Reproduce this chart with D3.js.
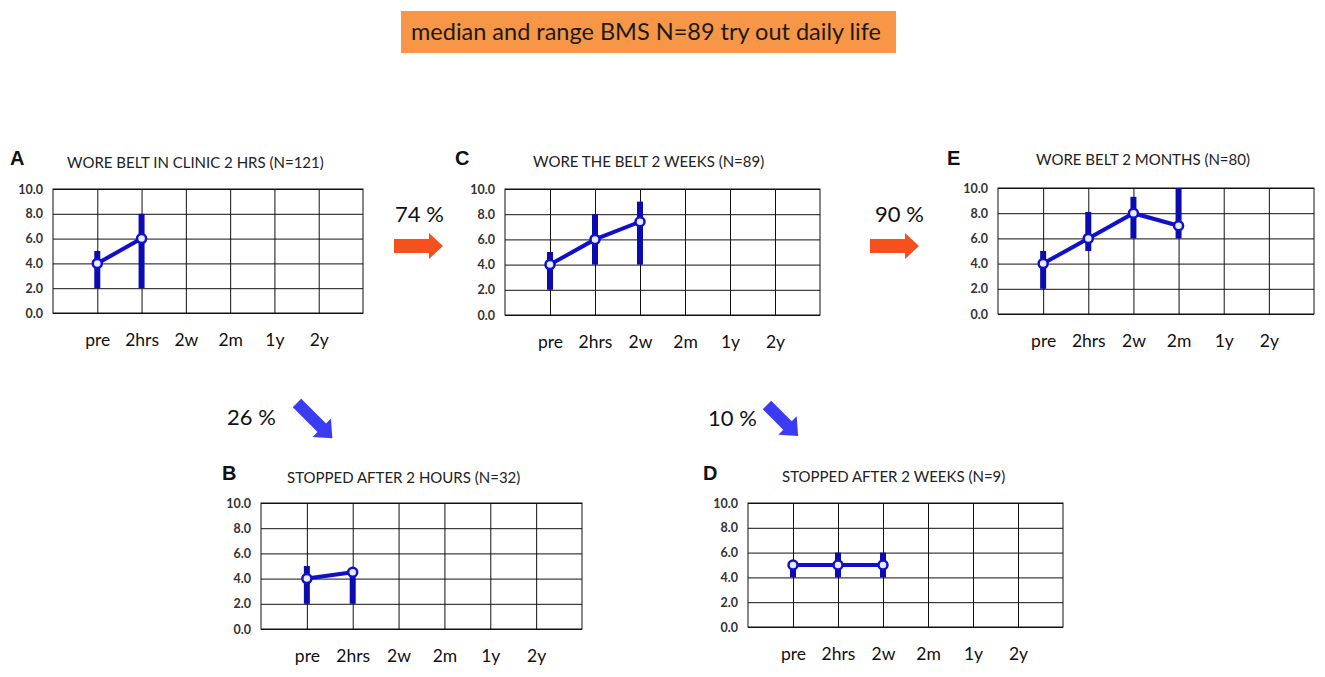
<!DOCTYPE html>
<html lang="en">
<head>
  <meta charset="UTF-8">
  <title>median and range BMS</title>
  <script src="https://d3js.org/d3.v7.min.js"></script>
  <style>
    body { margin: 0; background: #fff; }
    svg { display: block; }
    .ylab text { font-family: Lato, "Open Sans", sans-serif; font-size: 12.5px; font-weight: bold; fill: #333; }
    .xlab text { font-family: Lato, "Open Sans", sans-serif; font-size: 17.5px; fill: #111; }
  </style>
</head>
<body>
<svg id="chart" width="1325" height="677"></svg>
<script>
// time points on the x axis
const categories = ["pre", "2hrs", "2w", "2m", "1y", "2y"];
const yTicks = [0, 2, 4, 6, 8, 10];

// panel titles
const panelLetters = ["A", "C", "E", "B", "D"];
const panelTitles = [
  "WORE BELT IN CLINIC 2 HRS (N=121)",
  "WORE THE BELT 2 WEEKS (N=89)",
  "WORE BELT 2 MONTHS (N=80)",
  "STOPPED AFTER 2 HOURS (N=32)",
  "STOPPED AFTER 2 WEEKS (N=9)"
];

// median, min, max per panel
const medianA = [4.0, 6.0];
const minA = [2.0, 2.0];
const maxA = [5.0, 8.0];

const medianC = [4.0, 6.0, 7.4];
const minC = [2.0, 4.0, 4.0];
const maxC = [5.0, 8.0, 9.0];

const medianE = [4.0, 6.0, 8.0, 7.0];
const minE = [2.0, 5.0, 6.0, 6.0];
const maxE = [5.0, 8.1, 9.3, 10.0];

const medianB = [4.0, 4.5];
const minB = [2.0, 2.0];
const maxB = [5.0, 4.7];

const medianD = [5.0, 5.0, 5.0];
const minD = [4.0, 4.0, 4.0];
const maxD = [5.0, 6.0, 6.0];

// transition percentages
const pctLabels = ["74 %", "90 %", "26 %", "10 %"];

const svg = d3.select("#chart");

// header box
svg.append("rect")
  .attr("x", 401).attr("y", 11)
  .attr("width", 495).attr("height", 42)
  .attr("fill", "#f79646");
svg.append("text")
  .attr("x", 646).attr("y", 40)
  .attr("text-anchor", "middle")
  .attr("font-family", "Lato, 'Open Sans', sans-serif")
  .attr("font-size", 23.5)
  .attr("fill", "#1a1a1a")
  .text("median and range BMS N=89 try out daily life");

// panel boxes: left, right, top, bottom
const panels = [
  {box: [53, 363, 189, 313], letter: [10, 165], title: [67, 168], med: medianA, lo: minA, hi: maxA},
  {box: [505, 820, 189, 315], letter: [455, 165], title: [533, 167], med: medianC, lo: minC, hi: maxC},
  {box: [998, 1314, 188, 314], letter: [947, 165], title: [1036, 165], med: medianE, lo: minE, hi: maxE},
  {box: [261, 582, 503, 629], letter: [222, 480], title: [287, 483], med: medianB, lo: minB, hi: maxB},
  {box: [748, 1063, 503, 627], letter: [703, 480], title: [782, 482], med: medianD, lo: minD, hi: maxD}
];

panels.forEach((p, i) => {
  const [left, right, top, bottom] = p.box;
  const w = right - left, h = bottom - top;

  const x = d3.scalePoint()
    .domain(categories)
    .range([left, right])
    .padding(1);

  const y = d3.scaleLinear()
    .domain([0, 10])
    .range([bottom, top]);

  // letter + title
  svg.append("text")
    .attr("x", p.letter[0]).attr("y", p.letter[1])
    .attr("font-family", "Liberation Sans, Arial, sans-serif")
    .attr("font-weight", "bold")
    .attr("font-size", 20)
    .attr("fill", "#111")
    .text(panelLetters[i]);
  svg.append("text")
    .attr("x", p.title[0]).attr("y", p.title[1])
    .attr("font-family", "Lato, 'Open Sans', sans-serif")
    .attr("font-size", 15)
    .attr("fill", "#222")
    .text(panelTitles[i]);

  // horizontal grid + y labels
  svg.append("g")
    .attr("class", "ylab")
    .attr("transform", `translate(${left},0)`)
    .call(d3.axisLeft(y).tickValues(yTicks).tickFormat(d3.format(".1f"))
      .tickSizeInner(-w).tickSizeOuter(0).tickPadding(10))
    .call(g => g.select(".domain").remove())
    .call(g => g.selectAll("line").attr("stroke", "#111"));

  // vertical grid + category labels
  svg.append("g")
    .attr("class", "xlab")
    .attr("transform", `translate(0,${bottom})`)
    .call(d3.axisBottom(x).tickSizeInner(-h).tickSizeOuter(0).tickPadding(21))
    .call(g => g.select(".domain").remove())
    .call(g => g.selectAll("line").attr("stroke", "#111"));

  // frame
  svg.append("rect")
    .attr("x", left).attr("y", top)
    .attr("width", w).attr("height", h)
    .attr("fill", "none")
    .attr("stroke", "#111");

  const rows = p.med.map((m, j) => ({cat: categories[j], med: m, lo: p.lo[j], hi: p.hi[j]}));

  // range bars
  svg.append("g")
    .selectAll("line")
    .data(rows)
    .join("line")
    .attr("x1", d => x(d.cat)).attr("x2", d => x(d.cat))
    .attr("y1", d => y(d.lo)).attr("y2", d => y(d.hi))
    .attr("stroke", "#0b0bb0")
    .attr("stroke-width", 6);

  // median line
  svg.append("path")
    .datum(rows)
    .attr("fill", "none")
    .attr("stroke", "#1010cc")
    .attr("stroke-width", 4)
    .attr("d", d3.line().x(d => x(d.cat)).y(d => y(d.med)));

  svg.append("g")
    .selectAll("circle")
    .data(rows)
    .join("circle")
    .attr("cx", d => x(d.cat))
    .attr("cy", d => y(d.med))
    .attr("r", 4.5)
    .attr("fill", "#e8ecff")
    .attr("stroke", "#1010cc")
    .attr("stroke-width", 2.5);
});

// orange arrows to the right
function rightArrow(x0, yc) {
  return `M${x0},${yc - 7} L${x0 + 35},${yc - 7} L${x0 + 35},${yc - 13} L${x0 + 49},${yc} ` +
         `L${x0 + 35},${yc + 13} L${x0 + 35},${yc + 7} L${x0},${yc + 7} Z`;
}
// blue arrows pointing down-right
function diagArrow(x0, y0, len) {
  const pts = [[0, -6], [len - 15, -6], [len - 15, -13], [len, 0], [len - 15, 13], [len - 15, 6], [0, 6]];
  return "M" + pts.map(([a, b]) => `${x0 + (a - b) * Math.SQRT1_2},${y0 + (a + b) * Math.SQRT1_2}`).join(" L") + " Z";
}

svg.append("path").attr("d", rightArrow(394, 246)).attr("fill", "#f4511e");
svg.append("path").attr("d", rightArrow(870, 246)).attr("fill", "#f4511e");
svg.append("path").attr("d", diagArrow(297, 403, 50)).attr("fill", "#3b3bf2");
svg.append("path").attr("d", diagArrow(767, 405, 44)).attr("fill", "#3b3bf2");

const pctPos = [[395, 222], [875, 222], [227, 425], [708, 426]];
pctLabels.forEach((t, i) => {
  svg.append("text")
    .attr("x", pctPos[i][0]).attr("y", pctPos[i][1])
    .attr("font-family", "Lato, 'Open Sans', sans-serif")
    .attr("font-size", 22)
    .attr("fill", "#111")
    .text(t);
});
</script>
</body>
</html>
